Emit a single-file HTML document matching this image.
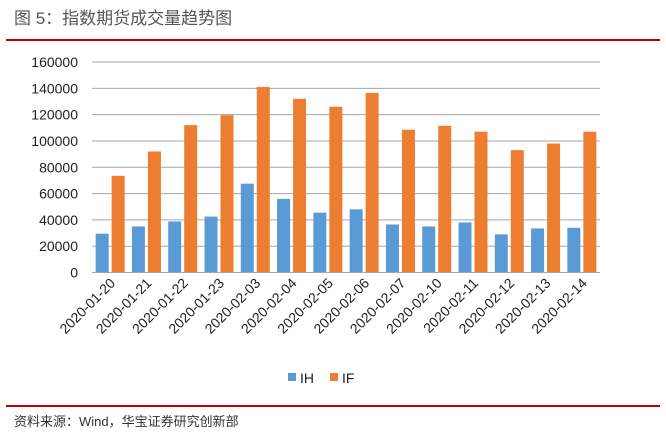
<!DOCTYPE html>
<html><head><meta charset="utf-8"><style>
body{margin:0;width:666px;height:434px;background:#fff;font-family:"Liberation Sans","Noto Sans CJK SC",sans-serif;overflow:hidden;position:relative}
.t{position:absolute;left:14px;top:4px;font-size:17px;color:#555}
.r{position:absolute;left:6px;width:654px;height:2px;background:#c00000}
.s{position:absolute;left:14px;top:411px;font-size:13px;color:#333}
</style></head><body>
<div class="t">图 5：指数期货成交量趋势图</div>
<div class="r" style="top:39px"></div>
<svg id="c" width="666" height="434" style="position:absolute;left:0;top:0"></svg>
<div class="r" style="top:405px;height:1.5px"></div>
<div class="s">资料来源：Wind，华宝证券研究创新部</div>
<script>
const categories=["2020-01-20","2020-01-21","2020-01-22","2020-01-23","2020-02-03","2020-02-04","2020-02-05","2020-02-06","2020-02-07","2020-02-10","2020-02-11","2020-02-12","2020-02-13","2020-02-14"];
const ihValues=[29500,35000,38800,42500,67500,56000,45500,48000,36500,35000,38000,29000,33500,34000];
const ifValues=[73500,92000,112000,119500,141000,132000,126000,136500,108500,111500,107000,93000,98000,107000];
const yTicks=[0,20000,40000,60000,80000,100000,120000,140000,160000];
const svg=document.getElementById('c');const NS='http://www.w3.org/2000/svg';
const x0=92,x1=600,y0=272.5,y1=62,yMax=160000;
const bw=(x1-x0)/categories.length;
const y=v=>y0-(v/yMax)*(y0-y1);
function mk(t,a){const e=document.createElementNS(NS,t);for(const k in a)e.setAttribute(k,a[k]);svg.appendChild(e);return e;}
yTicks.forEach(v=>{
 const l=mk('line',{x1:x0,x2:x1,y1:y(v),y2:y(v),stroke:'#a6a6a6','stroke-width':1});
 
 
 const t=mk('text',{x:78,y:y(v)+5,'text-anchor':'end','font-size':14,fill:'#222'});t.textContent=v;
 
 
});
categories.forEach((c,i)=>{
 const cx=x0+bw*i+bw/2;
 const b1=mk('rect',{x:cx-14.5,y:y(ihValues[i]),width:13,height:y0-y(ihValues[i]),fill:'#5b9bd5'});
 
 
 const b2=mk('rect',{x:cx+1.5,y:y(ifValues[i]),width:13,height:y0-y(ifValues[i]),fill:'#ed7d31'});
 
 
 const t=mk('text',{x:cx+6,y:284,'text-anchor':'end','font-size':14,fill:'#222',transform:`rotate(-45 ${cx+6} 284)`});t.textContent=c;
 
 
});
const ax=mk('line',{x1:x0,x2:x1,y1:y0,y2:y0,stroke:'#a6a6a6','stroke-width':1});


const lg=[['IH','#5b9bd5',288],['IF','#ed7d31',330]];
lg.forEach(([n,col,lx])=>{
 const r=mk('rect',{x:lx,y:373,width:8,height:8,fill:col});
 
 
 const t=mk('text',{x:lx+12,y:383,'font-size':14,fill:'#222'});t.textContent=n;
 
 
});
</script>
</body></html>
